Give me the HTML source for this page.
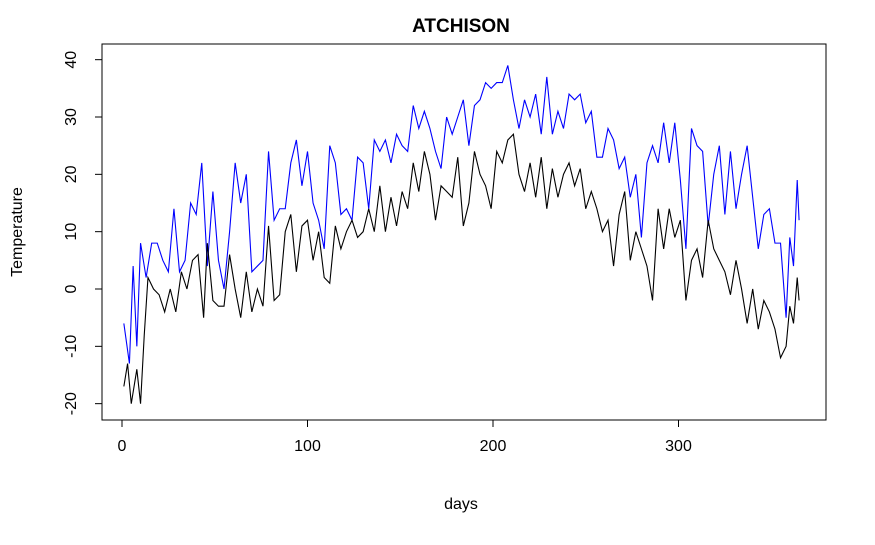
<!DOCTYPE html>
<html><head><meta charset="utf-8"><style>
body{margin:0;background:#fff;}
svg text{font-family:"Liberation Sans",Arial,sans-serif;}
</style></head><body>
<svg id="chart" width="875" height="540" viewBox="0 0 875 540" xmlns="http://www.w3.org/2000/svg">
<rect width="875" height="540" fill="#fff"/>
<text x="461" y="32" text-anchor="middle" font-size="19" font-weight="bold">ATCHISON</text>
<rect x="102" y="44" width="724" height="376" fill="none" stroke="#000" stroke-width="1"/>
<g id="xaxis"></g>
<g id="yaxis"></g>
<text x="461" y="509" text-anchor="middle" font-size="16">days</text>
<text x="22" y="232" text-anchor="middle" font-size="16" transform="rotate(-90 22 232)">Temperature</text>
<g id="series"></g>
</svg>
<script>
const xTicks=[0,100,200,300];
const yTicks=[-20,-10,0,10,20,30,40];
const maxDays=[1,4,6,8,10,13,16,19,22,25,28,31,34,37,40,43,46,49,52,55,58,61,64,67,70,73,76,79,82,85,88,91,94,97,100,103,106,109,112,115,118,121,124,127,130,133,136,139,142,145,148,151,154,157,160,163,166,169,172,175,178,181,184,187,190,193,196,199,202,205,208,211,214,217,220,223,226,229,232,235,238,241,244,247,250,253,256,259,262,265,268,271,274,277,280,283,286,289,292,295,298,301,304,307,310,313,316,319,322,325,328,331,334,337,340,343,346,349,352,355,358,360,362,364,365];
const maxTemp=[-6,-13,4,-10,8,2,8,8,5,3,14,3,5,15,13,22,4,17,5,0,10,22,15,20,3,4,5,24,12,14,14,22,26,18,24,15,12,7,25,22,13,14,12,23,22,14,26,24,26,22,27,25,24,32,28,31,28,24,21,30,27,30,33,25,32,33,36,35,36,36,39,33,28,33,30,34,27,37,27,31,28,34,33,34,29,31,23,23,28,26,21,23,16,20,9,22,25,22,29,22,29,19,7,28,25,24,11,20,25,13,24,14,20,25,16,7,13,14,8,8,-5,9,4,19,12];
const minDays=[1,3,5,8,10,12,14,17,20,23,26,29,32,35,38,41,44,46,49,52,55,58,61,64,67,70,73,76,79,82,85,88,91,94,97,100,103,106,109,112,115,118,121,124,127,130,133,136,139,142,145,148,151,154,157,160,163,166,169,172,175,178,181,184,187,190,193,196,199,202,205,208,211,214,217,220,223,226,229,232,235,238,241,244,247,250,253,256,259,262,265,268,271,274,277,280,283,286,289,292,295,298,301,304,307,310,313,316,319,322,325,328,331,334,337,340,343,346,349,352,355,358,360,362,364,365];
const minTemp=[-17,-13,-20,-14,-20,-8,2,0,-1,-4,0,-4,3,0,5,6,-5,8,-2,-3,-3,6,0,-5,3,-4,0,-3,11,-2,-1,10,13,3,11,12,5,10,2,1,11,7,10,12,9,10,14,10,18,10,16,11,17,14,22,17,24,20,12,18,17,16,23,11,15,24,20,18,14,24,22,26,27,20,17,22,16,23,14,21,16,20,22,18,21,14,17,14,10,12,4,13,17,5,10,7,4,-2,14,7,14,9,12,-2,5,7,2,12,7,5,3,-1,5,0,-6,0,-7,-2,-4,-7,-12,-10,-3,-6,2,-2];
const NS="http://www.w3.org/2000/svg";
const X=d=>122+d*1.855;
const Y=t=>289-t*5.733;
function mk(tag,attrs,parent){const e=document.createElementNS(NS,tag);for(const k in attrs)e.setAttribute(k,attrs[k]);parent.appendChild(e);return e;}
const xa=document.getElementById('xaxis'),ya=document.getElementById('yaxis'),sg=document.getElementById('series');
mk('line',{x1:X(0),x2:X(300),y1:420,y2:420,stroke:'#000'},xa);
xTicks.forEach(v=>{
  const l=mk('line',{x1:X(v),x2:X(v),y1:420,y2:427,stroke:'#000'},xa);
  
  
  const t=mk('text',{x:X(v),y:451,'text-anchor':'middle','font-size':'16'},xa);
  t.textContent=v;
  
  
});
mk('line',{x1:102,x2:102,y1:Y(-20),y2:Y(40),stroke:'#000'},ya);
yTicks.forEach(v=>{
  const l=mk('line',{x1:95,x2:102,y1:Y(v),y2:Y(v),stroke:'#000'},ya);
  
  
  const t=mk('text',{x:70,y:Y(v),'text-anchor':'middle','font-size':'16',transform:`rotate(-90 70 ${Y(v)})`,dy:'6'},ya);
  t.textContent=v;
  
  
});
const p1=mk('polyline',{points:maxDays.map((d,i)=>X(d)+','+Y(maxTemp[i])).join(' '),fill:'none',stroke:'#0000ff','stroke-width':'1.1'},sg);


const p2=mk('polyline',{points:minDays.map((d,i)=>X(d)+','+Y(minTemp[i])).join(' '),fill:'none',stroke:'#000','stroke-width':'1.1'},sg);


</script>
</body></html>
